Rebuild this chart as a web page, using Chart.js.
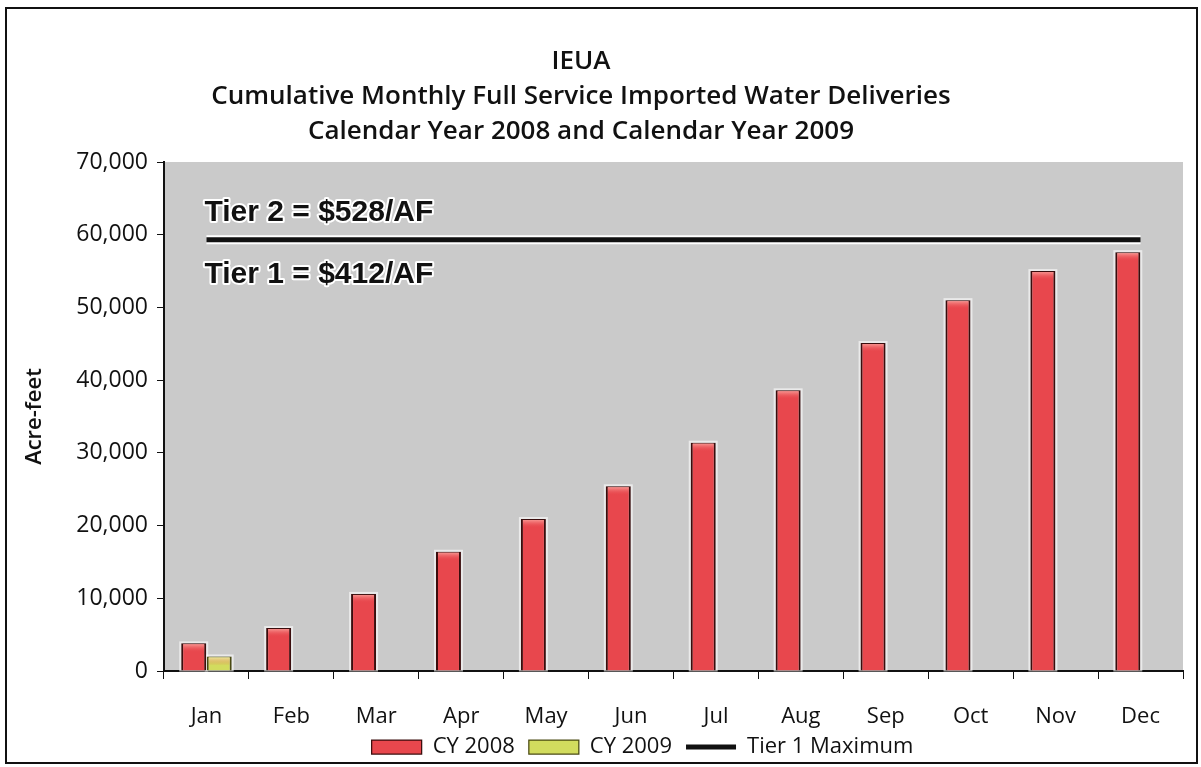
<!DOCTYPE html>
<html>
<head>
<meta charset="utf-8">
<script src="https://cdn.jsdelivr.net/npm/chart.js@4.4.1/dist/chart.umd.min.js"></script>
<style>
  html, body { margin: 0; padding: 0; background: #fff; }
  #wrap { width: 1201px; height: 767px; position: relative; }
</style>
</head>
<body>
<div id="wrap"><canvas id="chart" width="1201" height="767"></canvas></div>
<script>
// values (acre-feet, cumulative)
const months = ['Jan', 'Feb', 'Mar', 'Apr', 'May', 'Jun', 'Jul', 'Aug', 'Sep', 'Oct', 'Nov', 'Dec'];
const cy2008 = [3800, 5900, 10600, 16400, 20900, 25400, 31400, 38600, 45100, 51000, 55000, 57600];
const cy2009 = [2000, null, null, null, null, null, null, null, null, null, null, null];
const tier1Max = [59300, 59300, 59300, 59300, 59300, 59300, 59300, 59300, 59300, 59300, 59300, 59300];
const yTicks = [0, 10000, 20000, 30000, 40000, 50000, 60000, 70000];
const titleLines = ['IEUA', 'Cumulative Monthly Full Service Imported Water Deliveries', 'Calendar Year 2008 and Calendar Year 2009'];
const tierLabels = ['Tier 2 = $528/AF', 'Tier 1 = $412/AF'];

const FONT = '"Open Sans", Lato, sans-serif';
const PLOT_BOTTOM = 671;
const LEGEND_PAD = 14;

// frame, plot background, title, tier labels
const decor = {
  id: 'decor',
  afterLayout(chart) {
    // the scanned legend sits right of centre and a little low
    const lg = chart.legend;
    const dy = 747 - (lg.top + LEGEND_PAD + 11);
    lg.left += 51; lg.right += 51;
    lg.top += dy; lg.bottom += dy;
    // let the month labels run under the legend without being clipped
    chart.scales.x.bottom = chart.height;
  },
  beforeDraw(chart) {
    const { ctx, chartArea: a } = chart;
    ctx.save();
    ctx.fillStyle = '#fff';
    ctx.fillRect(0, 0, chart.width, chart.height);
    ctx.strokeStyle = '#111';
    ctx.lineWidth = 2;
    ctx.strokeRect(6, 8, 1191, 755);
    ctx.fillStyle = '#cacaca';
    ctx.fillRect(a.left, a.top, a.right - a.left, a.bottom - a.top);
    ctx.fillStyle = '#111';
    ctx.font = '600 26px ' + FONT;
    ctx.textAlign = 'center';
    ctx.textBaseline = 'middle';
    titleLines.forEach((t, i) => ctx.fillText(t, 581, 62 + i * 35));
    ctx.restore();
  },
  beforeDatasetsDraw(chart) {
    // faint white glow round each bar, as in the scan
    const { ctx } = chart;
    ctx.save();
    ctx.strokeStyle = 'rgba(255,255,255,0.6)';
    ctx.lineWidth = 2;
    [2, 3].forEach(di => {
      chart.getDatasetMeta(di).data.forEach(b => {
        const p = b.getProps(['x', 'y', 'width', 'base']);
        if (!isFinite(p.y) || Math.abs(p.base - p.y) < 1) return;
        ctx.strokeRect(p.x - p.width / 2 - 1, p.y - 1, p.width + 2, p.base - p.y + 1);
      });
    });
    ctx.restore();
  },
  afterDatasetsDraw(chart) {
    const { ctx, scales } = chart;
    // lighter top cap of the cylinder bars
    ctx.save();
    [[2, 'rgba(255,190,180,0.8)'], [3, 'rgba(250,250,190,0.8)']].forEach(([di, col]) => {
      chart.getDatasetMeta(di).data.forEach(b => {
        const p = b.getProps(['x', 'y', 'width', 'base']);
        if (!isFinite(p.y) || Math.abs(p.base - p.y) < 8) return;
        const g = ctx.createLinearGradient(0, p.y, 0, p.y + 9);
        g.addColorStop(0, col);
        g.addColorStop(1, 'rgba(232,71,77,0)');
        ctx.fillStyle = g;
        ctx.fillRect(p.x - p.width / 2 + 2, p.y + 1, p.width - 4, 9);
      });
    });
    ctx.restore();

    const yLine = scales.y.getPixelForValue(tier1Max[0]);
    const x0 = scales.x.getPixelForValue(0) - 2;
    ctx.save();
    ctx.font = 'bold 30px "Liberation Sans", Arial, sans-serif';
    ctx.textAlign = 'left';
    ctx.textBaseline = 'alphabetic';
    ctx.lineJoin = 'round';
    [[tierLabels[0], yLine - 19], [tierLabels[1], yLine + 43]].forEach(([t, y]) => {
      ctx.strokeStyle = '#fff';
      ctx.lineWidth = 4;
      ctx.strokeText(t, x0, y);
      ctx.fillStyle = '#111';
      ctx.fillText(t, x0, y);
    });
    ctx.restore();
  }
};

new Chart(document.getElementById('chart'), {
  data: {
    labels: months,
    datasets: [
      {
        type: 'line', label: 'halo', data: tier1Max,
        borderColor: '#ffffff', borderWidth: 9, pointRadius: 0, order: 1
      },
      {
        type: 'line', label: 'Tier 1 Maximum', data: tier1Max,
        borderColor: '#111111', backgroundColor: '#111111', borderWidth: 5,
        pointRadius: 0, pointStyle: 'line', order: 0
      },
      {
        type: 'bar', label: 'CY 2008', data: cy2008,
        backgroundColor: '#e8474d', borderColor: '#3a0d0d',
        borderWidth: { left: 2, right: 2, top: 1, bottom: 0 }, borderSkipped: false,
        pointStyle: 'rect', order: 2,
        categoryPercentage: 0.6, barPercentage: 0.98
      },
      {
        type: 'bar', label: 'CY 2009', data: cy2009,
        backgroundColor: '#d2dc5e', borderColor: '#4a4a12',
        borderWidth: { left: 2, right: 2, top: 1, bottom: 0 }, borderSkipped: false,
        pointStyle: 'rect', order: 2,
        categoryPercentage: 0.6, barPercentage: 0.98
      }
    ]
  },
  options: {
    responsive: false,
    animation: false,
    layout: { padding: { top: 162, right: 18, bottom: 0, left: 0 } },
    plugins: {
      title: { display: false },
      tooltip: { enabled: false },
      legend: {
        position: 'bottom',
        labels: {
          filter: item => item.text !== 'halo',
          sort: (a, b) => [2, 3, 1].indexOf(a.datasetIndex) - [2, 3, 1].indexOf(b.datasetIndex),
          usePointStyle: true,
          pointStyleWidth: 50,
          boxHeight: 14,
          padding: LEGEND_PAD,
          color: '#111',
          font: { family: FONT, size: 22 }
        }
      }
    },
    scales: {
      x: {
        offset: true,
        afterFit: s => {
          const lh = s.chart.legend ? s.chart.legend.height : 40;
          s.height = 767 - PLOT_BOTTOM - lh;
        },
        grid: { offset: true, drawOnChartArea: false, color: '#111', tickLength: 8 },
        border: { color: '#111', width: 2 },
        ticks: { color: '#111', padding: 25, font: { family: FONT, size: 22 } }
      },
      y: {
        min: 0, max: 70000,
        afterBuildTicks: s => { s.ticks = yTicks.map(v => ({ value: v })); },
        afterFit: s => { s.width = 164; },
        grid: { drawOnChartArea: false, color: '#111', tickLength: 7 },
        border: { color: '#111', width: 2 },
        ticks: {
          color: '#111', padding: 9, font: { family: FONT, size: 23 },
          callback: v => v.toLocaleString('en-US')
        },
        title: {
          display: true, text: 'Acre-feet', color: '#111',
          font: { family: FONT, size: 22, weight: '600' },
          padding: { top: 22, bottom: 0 }
        }
      }
    }
  },
  plugins: [decor]
});
</script>
</body>
</html>
